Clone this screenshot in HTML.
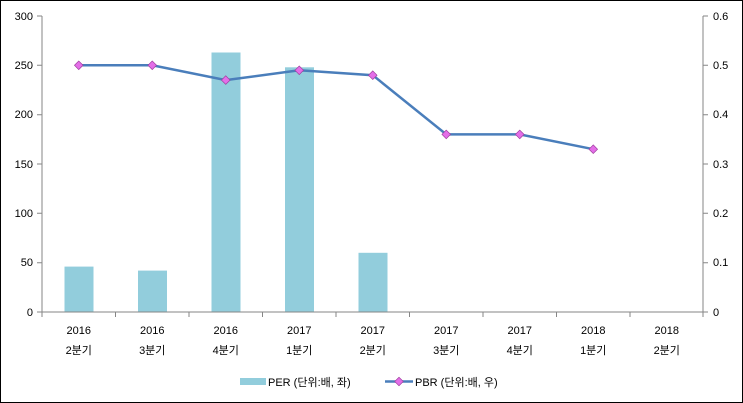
<!DOCTYPE html><html><head><meta charset="utf-8"><style>body{margin:0;background:#fff}svg{display:block}text{font-family:"Liberation Sans","Noto Sans CJK KR",sans-serif;font-size:11px;fill:#000}</style></head><body>
<svg width="743" height="403" viewBox="0 0 743 403">
<rect x="0.5" y="0.5" width="742" height="402" fill="#fff" stroke="#000"/>
<g fill="#92cddc">
<rect x="64.5" y="266.6" width="29" height="45.4"/>
<rect x="138" y="270.6" width="29" height="41.4"/>
<rect x="211.5" y="52.5" width="29" height="259.5"/>
<rect x="285" y="67.3" width="29" height="244.7"/>
<rect x="358.5" y="252.8" width="29" height="59.2"/>
</g>
<g stroke="#868686" fill="none">
<path d="M42 16V312H703V16"/>
<path d="M37 16H42M37 65.3H42M37 114.7H42M37 164H42M37 213.3H42M37 262.7H42M37 312H42"/>
<path d="M703 16H708M703 65.3H708M703 114.7H708M703 164H708M703 213.3H708M703 262.7H708M703 312H708"/>
<path d="M42 312v5M115.5 312v5M189 312v5M262.5 312v5M336 312v5M409.5 312v5M483 312v5M556.5 312v5M630 312v5M703 312v5"/>
</g>
<g text-anchor="end">
<text x="33" y="20">300</text><text x="33" y="69">250</text><text x="33" y="118">200</text><text x="33" y="168">150</text><text x="33" y="217">100</text><text x="33" y="266">50</text><text x="33" y="316">0</text>
</g>
<g>
<text x="713" y="20">0.6</text><text x="713" y="69">0.5</text><text x="713" y="118">0.4</text><text x="713" y="168">0.3</text><text x="713" y="217">0.2</text><text x="713" y="266">0.1</text><text x="713" y="316">0</text>
</g>
<g text-anchor="middle">
<text x="78.75" y="334">2016</text><text x="78.75" y="354">2분기</text>
<text x="152.25" y="334">2016</text><text x="152.25" y="354">3분기</text>
<text x="225.75" y="334">2016</text><text x="225.75" y="354">4분기</text>
<text x="299.25" y="334">2017</text><text x="299.25" y="354">1분기</text>
<text x="372.75" y="334">2017</text><text x="372.75" y="354">2분기</text>
<text x="446.25" y="334">2017</text><text x="446.25" y="354">3분기</text>
<text x="519.75" y="334">2017</text><text x="519.75" y="354">4분기</text>
<text x="593.25" y="334">2018</text><text x="593.25" y="354">1분기</text>
<text x="666.75" y="334">2018</text><text x="666.75" y="354">2분기</text>
</g>
<polyline fill="none" stroke="#4a7ebb" stroke-width="2.5" points="78.75,65.3 152.25,65.3 225.75,80.1 299.25,70.3 372.75,75.2 446.25,134.4 519.75,134.4 593.25,149.2"/>
<g fill="#e46ee8" stroke="#a040a0" stroke-width="0.7">
<path d="M78.75 61l4.3 4.3-4.3 4.3-4.3-4.3z"/>
<path d="M152.25 61l4.3 4.3-4.3 4.3-4.3-4.3z"/>
<path d="M225.75 75.8l4.3 4.3-4.3 4.3-4.3-4.3z"/>
<path d="M299.25 66l4.3 4.3-4.3 4.3-4.3-4.3z"/>
<path d="M372.75 70.9l4.3 4.3-4.3 4.3-4.3-4.3z"/>
<path d="M446.25 130.1l4.3 4.3-4.3 4.3-4.3-4.3z"/>
<path d="M519.75 130.1l4.3 4.3-4.3 4.3-4.3-4.3z"/>
<path d="M593.25 144.9l4.3 4.3-4.3 4.3-4.3-4.3z"/>
</g>
<rect x="240" y="378" width="26" height="7" fill="#92cddc"/>
<text x="268" y="386">PER (단위:배, 좌)</text>
<line x1="385" y1="381.5" x2="413" y2="381.5" stroke="#4a7ebb" stroke-width="2.5"/>
<path d="M399 377.2l4.3 4.3-4.3 4.3-4.3-4.3z" fill="#e46ee8" stroke="#a040a0" stroke-width="0.7"/>
<text x="415" y="386">PBR (단위:배, 우)</text>
</svg></body></html>
